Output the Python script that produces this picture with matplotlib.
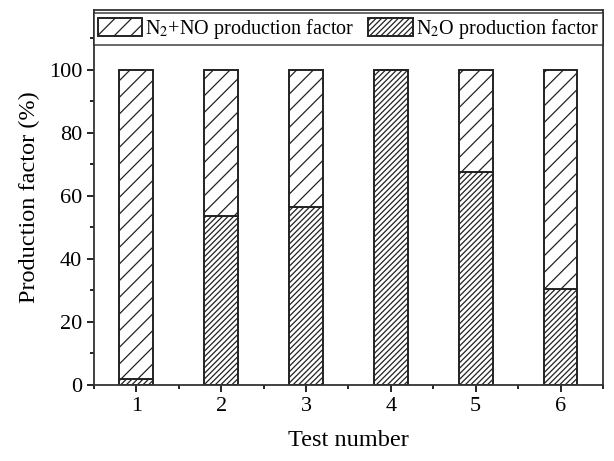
import matplotlib.pyplot as plt
import numpy as np
from matplotlib.ticker import MultipleLocator

plt.rcParams['font.family'] = ['Liberation Serif', 'DejaVu Serif']
plt.rcParams['hatch.linewidth'] = 0.9
plt.rcParams['mathtext.fontset'] = 'stix'

tests = [1, 2, 3, 4, 5, 6]
n2o = [2, 53.5, 56.5, 100, 67.5, 30.5]
n2_no = [100 - v for v in n2o]

fig = plt.figure(figsize=(6.14, 4.61), dpi=100)
ax = fig.add_axes([0.153, 0.165, 0.829, 0.813])

b1 = ax.bar(tests, n2o, width=0.4, color='white', edgecolor='#222222',
            hatch='//////', linewidth=1.4, label='N$_2$O production factor')
b2 = ax.bar(tests, n2_no, width=0.4, bottom=n2o, color='white', edgecolor='#222222',
            hatch='//', linewidth=1.4, label='N$_2$+NO production factor')

ax.set_xlim(0.5, 6.5)
ax.set_ylim(0, 119)
ax.set_yticks([0, 20, 40, 60, 80, 100])
ax.yaxis.set_minor_locator(MultipleLocator(10))
ax.xaxis.set_minor_locator(MultipleLocator(0.5))
ax.set_xticks(tests)
ax.tick_params(axis='both', which='major', direction='out', length=5, width=1.2, labelsize=16)
ax.tick_params(axis='both', which='minor', direction='out', length=3, width=1.2)
ax.tick_params(top=False, right=False, which='both')
for s in ax.spines.values():
    s.set_linewidth(1.3)
    s.set_color('#333333')

ax.set_xlabel('Test number', fontsize=17.5, labelpad=10)
ax.set_ylabel('Production factor (%)', fontsize=17.5, labelpad=6)

leg = ax.legend(handles=[b2, b1], loc='upper center', ncol=2, fontsize=14.5,
                frameon=True, fancybox=False, edgecolor='#222222',
                borderaxespad=0.15, handlelength=2.2, handleheight=1.0,
                columnspacing=0.7, handletextpad=0.15, borderpad=0.2,
                bbox_to_anchor=(0.5, 1.0))
leg.get_frame().set_linewidth(1.2)

fig.savefig('out.png', dpi=100)
